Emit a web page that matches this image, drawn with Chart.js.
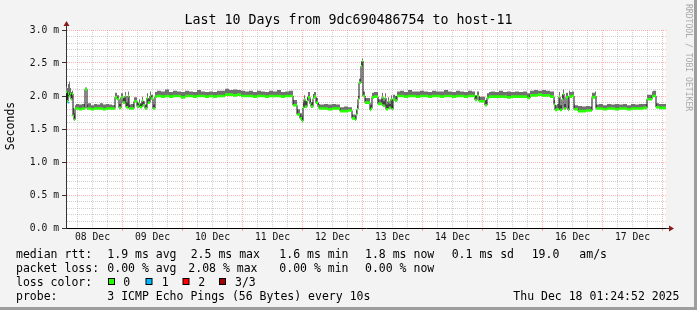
<!DOCTYPE html>
<html>
<head>
<meta charset="utf-8">
<script src="https://cdn.jsdelivr.net/npm/chart.js@4.4.1/dist/chart.umd.min.js"></script>
<style>
  html, body { margin: 0; padding: 0; background: #f3f3f3; }
  #wrap { width: 697px; height: 310px; }
</style>
</head>
<body>
<div id="wrap"><canvas id="rtt" width="697" height="310"></canvas></div>
<script>
// RRD step is 24 minutes, first step starts Dec 08 01:24:52
const stepMinutes = 24;
const startHour = 1 + 24 / 60 + 52 / 3600;
const spanHours = 240;

// index of the RRD step where a new value begins
const rrdStep = [
  0, 1, 2, 3, 4, 5, 6, 7, 8, 9, 10, 13, 16, 19, 21, 22, 25, 28, 31, 34, 37, 40, 43, 46, 49,
  51, 53, 55, 57, 59, 60, 62, 63, 65, 68, 71, 73, 74, 76, 77, 79, 81, 82, 84, 85, 87, 89,
  91, 95, 99, 103, 107, 111, 115, 119, 123, 127, 131, 135, 139, 143, 147, 151, 155, 159,
  163, 167, 171, 175, 179, 183, 187, 191, 195, 199, 203, 207, 211, 215, 219, 223, 227, 231,
  234, 236, 237, 238, 239, 241, 242, 244, 245, 247, 248, 250, 252, 253, 254,
  258, 262, 266, 270, 274, 278, 282, 286, 289, 290, 291, 292, 293, 295, 296, 297, 299,
  304, 305, 306, 308, 312, 316, 317, 319, 320, 322, 323, 325, 326, 327, 329, 331, 334,
  338, 342, 346, 350, 354, 358, 362, 366, 370, 374, 378, 382, 386, 390, 394, 398, 402, 406,
  409, 411, 413, 419, 421, 423, 425,
  429, 433, 437, 441, 445, 449, 453, 457, 461, 464,
  468, 472, 476, 480, 484,
  488, 489, 491, 493, 494, 496, 497, 498, 500, 502, 503, 504, 506, 508,
  509, 512, 516, 520, 524, 526, 529, 530, 533,
  537, 541, 545, 549, 553, 557, 561, 565, 569, 573, 577, 581,
  586, 587, 590, 593, 596, 600
];

// median rtt in ms
const medianMs = [
  1.82, 2.06, 1.92, 2.04, 2.00, 2.03, 1.95, 2.03, 1.70, 1.64, 1.81, 1.81, 1.80, 1.81, 2.10, 1.81, 1.81, 1.80, 1.81, 1.81, 1.81, 1.80, 1.81, 1.81, 1.81,
  1.98, 1.95, 1.82, 1.98, 1.90, 2.00, 1.83, 2.00, 1.81, 1.81, 1.92, 1.84, 1.88, 1.83, 1.93, 1.86, 1.81, 1.97, 1.90, 2.00, 1.96, 1.81,
  1.99, 2.00, 1.99, 2.00, 1.99, 2.00, 2.00, 1.98, 2.00, 2.00, 1.99, 2.00, 2.00, 1.99, 2.00, 1.99, 2.00, 2.00,
  2.02, 2.02, 2.01, 2.02, 2.00, 2.00, 2.00, 1.99, 2.00, 2.00, 1.99, 2.00, 2.00, 2.00, 1.99, 2.00, 2.00, 1.86,
  1.72, 1.66, 1.62, 1.82, 1.95, 1.84, 1.92, 1.98, 1.88, 1.84, 1.96, 1.99, 1.90, 1.84, 1.81,
  1.81, 1.81, 1.80, 1.81, 1.81, 1.77, 1.77, 1.78, 1.66, 1.64, 1.72, 1.80, 1.95, 2.20, 2.45, 2.53, 2.00,
  1.90, 1.79, 1.81, 1.98, 1.99, 1.88, 1.98, 1.85, 1.97, 1.80, 1.92, 1.82, 1.95, 1.80, 1.95, 1.93, 2.00,
  2.00, 1.99, 2.00, 2.00, 1.99, 2.00, 2.00, 1.99, 2.00, 2.00, 1.99, 2.00, 2.00, 1.99, 2.00, 2.00, 1.99, 2.00,
  2.00, 1.94, 2.00, 1.92, 1.86, 1.97, 1.99,
  1.99, 1.99, 1.99, 1.99, 1.98, 1.99, 1.99, 1.99, 1.99, 1.97,
  2.01, 2.01, 2.02, 2.01, 2.01,
  1.99, 1.87, 1.79, 1.80, 1.99, 1.79, 1.95, 2.03, 1.81, 1.98, 1.79, 2.00, 1.99, 2.00,
  1.80, 1.80, 1.77, 1.77, 1.78, 1.78, 1.98, 2.00, 1.81,
  1.81, 1.80, 1.81, 1.81, 1.80, 1.81, 1.81, 1.80, 1.81, 1.81, 1.81, 1.82,
  1.95, 1.99, 2.00, 1.83, 1.82, 1.82
];

// top of the ping smoke in ms
const smokeHighMs = [
  1.88, 2.14, 2.12, 2.18, 2.22, 2.12, 2.06, 2.08, 1.82, 1.74, 1.86, 1.88, 1.87, 1.88, 2.13, 1.87, 1.89, 1.86, 1.88, 1.87, 1.89, 1.87, 1.88, 1.87, 1.86,
  2.05, 2.01, 1.88, 2.04, 1.97, 2.06, 1.90, 2.07, 1.87, 1.88, 1.98, 1.90, 1.95, 1.89, 1.99, 1.92, 1.87, 2.04, 1.96, 2.07, 2.02, 1.87,
  2.06, 2.08, 2.07, 2.10, 2.06, 2.08, 2.07, 2.06, 2.08, 2.07, 2.06, 2.09, 2.07, 2.06, 2.07, 2.06, 2.08, 2.08,
  2.11, 2.09, 2.10, 2.09, 2.08, 2.07, 2.08, 2.06, 2.08, 2.07, 2.06, 2.08, 2.07, 2.09, 2.06, 2.07, 2.08, 1.94,
  1.80, 1.74, 1.70, 1.90, 2.01, 1.92, 1.99, 2.06, 1.95, 1.91, 2.03, 2.06, 1.97, 1.90, 1.88,
  1.87, 1.88, 1.87, 1.88, 1.87, 1.83, 1.84, 1.83, 1.72, 1.70, 1.78, 1.86, 2.00, 2.26, 2.52, 2.57, 2.07,
  1.97, 1.86, 1.87, 2.05, 2.06, 1.95, 2.05, 1.92, 2.04, 1.87, 1.98, 1.88, 2.01, 1.86, 2.02, 2.00, 2.07,
  2.08, 2.06, 2.09, 2.07, 2.07, 2.08, 2.07, 2.06, 2.08, 2.07, 2.07, 2.09, 2.07, 2.06, 2.08, 2.07, 2.06, 2.08,
  2.07, 2.01, 2.07, 1.99, 1.94, 2.04, 2.06,
  2.07, 2.06, 2.08, 2.06, 2.07, 2.06, 2.07, 2.06, 2.07, 2.04,
  2.08, 2.09, 2.08, 2.09, 2.08,
  2.07, 1.94, 1.86, 1.88, 2.06, 1.86, 2.02, 2.10, 1.88, 2.05, 1.86, 2.08, 2.06, 2.07,
  1.87, 1.86, 1.85, 1.84, 1.85, 1.84, 2.05, 2.07, 1.87,
  1.88, 1.86, 1.88, 1.87, 1.88, 1.87, 1.88, 1.86, 1.88, 1.87, 1.88, 1.88,
  2.02, 2.07, 2.08, 1.89, 1.88, 1.88
];

// steps where one of three pings was lost
const lossOneStep = [2];
const lossOneMs = [1.90];

const dayLabels = ['08 Dec', '09 Dec', '10 Dec', '11 Dec', '12 Dec', '13 Dec', '14 Dec', '15 Dec', '16 Dec', '17 Dec'];
const yTickLabels = ['0.0 m', '0.5 m', '1.0 m', '1.5 m', '2.0 m', '2.5 m', '3.0 m'];

const lossColors = ['#26ff00', '#00b8ff', '#ff0000', '#a10000'];
const lossLabels = ['0', '1', '2', '3/3'];

const mono = '"DejaVu Sans Mono", monospace';

const toHours = step => startHour + step * stepMinutes / 60;
const bandHalf = 0.02;

const medianPts = medianMs.map((v, i) => ({ x: toHours(rrdStep[i]), y: v }));
const bandTop = medianMs.map((v, i) => ({ x: toHours(rrdStep[i]), y: v + bandHalf }));
const bandLow = medianMs.map((v, i) => ({ x: toHours(rrdStep[i]), y: v - bandHalf }));
const smokePts = smokeHighMs.map((v, i) => ({ x: toHours(rrdStep[i]), y: v }));
const lossOnePts = lossOneMs.map((v, i) => ({ x: toHours(lossOneStep[i]) + 0.2, y: v }));

// 6 hour grid, labels at noon
const xTicks = [];
for (let h = 6; h <= 240; h += 6) xTicks.push(h);
const yTicks = [];
for (let i = 0; i <= 30; i++) yTicks.push(i / 10);

const isDay = v => Math.abs(v % 24) < 1e-6;
const isHalf = v => Math.abs(v * 2 - Math.round(v * 2)) < 1e-6;

const rrdFrame = {
  id: 'rrdFrame',
  beforeDraw(chart) {
    const { ctx, chartArea: a } = chart;
    ctx.save();
    ctx.fillStyle = '#f3f3f3';
    ctx.fillRect(0, 0, chart.width, chart.height);
    ctx.fillStyle = '#9d9d9d';
    ctx.fillRect(chart.width - 3, 0, 3, chart.height);
    ctx.fillRect(0, chart.height - 3, chart.width, 3);
    ctx.fillStyle = '#ffffff';
    ctx.fillRect(a.left, a.top, a.right - a.left, a.bottom - a.top);
    ctx.restore();
  },
  afterDraw(chart) {
    const { ctx, chartArea: a } = chart;
    ctx.save();
    // axis arrows
    ctx.strokeStyle = '#333';
    ctx.lineWidth = 1;
    ctx.beginPath();
    ctx.moveTo(a.left + 0.5, a.top);
    ctx.lineTo(a.left + 0.5, a.top - 4);
    ctx.moveTo(a.right, a.bottom + 0.5);
    ctx.lineTo(a.right + 3, a.bottom + 0.5);
    ctx.stroke();
    ctx.fillStyle = '#8b1a1a';
    ctx.beginPath();
    ctx.moveTo(a.left + 0.5, a.top - 9);
    ctx.lineTo(a.left + 3.5, a.top - 4);
    ctx.lineTo(a.left - 2.5, a.top - 4);
    ctx.closePath();
    ctx.fill();
    ctx.beginPath();
    ctx.moveTo(a.right + 8, a.bottom + 0.5);
    ctx.lineTo(a.right + 3, a.bottom - 2.5);
    ctx.lineTo(a.right + 3, a.bottom + 3.5);
    ctx.closePath();
    ctx.fill();

    // title
    ctx.fillStyle = '#000';
    ctx.font = '13.3px ' + mono;
    ctx.textAlign = 'center';
    ctx.textBaseline = 'alphabetic';
    ctx.fillText('Last 10 Days from 9dc690486754 to host-11', 348.5, 24);

    // vertical axis title
    ctx.save();
    ctx.font = '11.5px ' + mono;
    ctx.translate(14, 126);
    ctx.rotate(-Math.PI / 2);
    ctx.fillText('Seconds', 0, 0);
    ctx.restore();

    // watermark
    ctx.save();
    ctx.fillStyle = '#a8a8a8';
    ctx.font = '8.1px ' + mono;
    ctx.textAlign = 'left';
    ctx.textBaseline = 'middle';
    ctx.translate(688, 4);
    ctx.rotate(Math.PI / 2);
    ctx.fillText('RRDTOOL / TOBI OETIKER', 0, 0);
    ctx.restore();

    // legend
    ctx.font = '11.5px ' + mono;
    ctx.textAlign = 'left';
    ctx.fillStyle = '#000';
    const rows = [
      [257.5, [[16, 'median rtt:'], [107.3, '1.9 ms avg'], [190.7, '2.5 ms max'], [279.3, '1.6 ms min'],
               [365, '1.8 ms now'], [451.7, '0.1 ms sd'], [531.7, '19.0'], [579.3, 'am/s']]],
      [271.5, [[16, 'packet loss:'], [107.3, '0.00 % avg'], [188.3, '2.08 % max'], [279.3, '0.00 % min'],
               [365, '0.00 % now']]],
      [285.5, [[16, 'loss color:']]],
      [299.5, [[16, 'probe:'], [107.3, '3 ICMP Echo Pings (56 Bytes) every 10s'], [513.3, 'Thu Dec 18 01:24:52 2025']]]
    ];
    rows.forEach(([y, parts]) => parts.forEach(([x, t]) => ctx.fillText(t, x, y)));
    const boxX = [108, 145.5, 182.5, 219];
    const labX = [123.3, 161.7, 198.3, 235];
    lossColors.forEach((c, i) => {
      ctx.fillStyle = '#000';
      ctx.fillRect(boxX[i], 278, 7, 7);
      ctx.fillStyle = c;
      ctx.fillRect(boxX[i] + 1, 279, 5, 5);
      ctx.fillStyle = '#000';
      ctx.fillText(lossLabels[i], labX[i], 285.5);
    });
    ctx.restore();
  }
};

new Chart(document.getElementById('rtt'), {
  type: 'line',
  data: {
    datasets: [
      {
        label: 'loss 0',
        data: bandTop,
        stepped: 'after',
        borderWidth: 0,
        pointRadius: 0,
        backgroundColor: lossColors[0],
        fill: 1,
        order: 1
      },
      {
        label: 'band low',
        data: bandLow,
        stepped: 'after',
        borderWidth: 0,
        pointRadius: 0,
        fill: false,
        order: 1
      },
      {
        label: 'median',
        data: medianPts,
        stepped: 'after',
        borderColor: '#111111',
        borderWidth: 1,
        pointRadius: 0,
        fill: false,
        order: 2
      },
      {
        label: 'smoke',
        data: smokePts,
        stepped: 'after',
        borderWidth: 0,
        pointRadius: 0,
        backgroundColor: '#707070',
        fill: 2,
        order: 3
      },
      {
        label: 'loss 1',
        data: lossOnePts,
        showLine: false,
        pointStyle: 'rect',
        pointRadius: 1.2,
        pointBorderWidth: 0,
        backgroundColor: lossColors[1],
        order: 0
      }
    ]
  },
  options: {
    responsive: false,
    animation: false,
    devicePixelRatio: 1,
    layout: { padding: { left: 0, right: 31, top: 30, bottom: 62 } },
    plugins: { legend: { display: false }, tooltip: { enabled: false } },
    scales: {
      x: {
        type: 'linear',
        min: startHour,
        max: startHour + spanHours,
        afterBuildTicks: s => { s.ticks = xTicks.map(v => ({ value: v })); },
        afterFit: s => { s.height = 20; },
        border: { display: true, color: '#000', width: 1, dash: [1, 1] },
        grid: {
          color: c => isDay(c.tick.value) ? 'rgba(255,90,90,0.45)' : 'rgba(150,150,150,0.45)',
          lineWidth: 1,
          tickLength: 3,
          tickColor: c => isDay(c.tick.value) ? 'rgba(255,90,90,0.55)' : 'rgba(0,0,0,0)'
        },
        ticks: {
          autoSkip: false,
          maxRotation: 0,
          padding: 1,
          color: '#111',
          font: { family: 'DejaVu Sans Mono', size: 9.7 },
          callback: v => (Math.abs(v % 24 - 12) < 1e-6) ? dayLabels[Math.round((v - 12) / 24)] : ''
        }
      },
      y: {
        min: 0,
        max: 3,
        afterBuildTicks: s => { s.ticks = yTicks.map(v => ({ value: v })); },
        afterFit: s => { s.width = 66; },
        border: { display: true, color: '#333', width: 1, dash: [1, 1] },
        grid: {
          color: c => isHalf(c.tick.value) ? 'rgba(255,90,90,0.45)' : 'rgba(150,150,150,0.45)',
          lineWidth: 1,
          tickLength: 4,
          tickColor: c => isHalf(c.tick.value) ? '#333' : 'rgba(0,0,0,0)'
        },
        ticks: {
          autoSkip: false,
          padding: 3,
          color: '#111',
          font: { family: 'DejaVu Sans Mono', size: 9.7 },
          callback: v => isHalf(v) ? yTickLabels[Math.round(v * 2)] : ''
        }
      }
    }
  },
  plugins: [rrdFrame]
});
</script>
</body>
</html>
